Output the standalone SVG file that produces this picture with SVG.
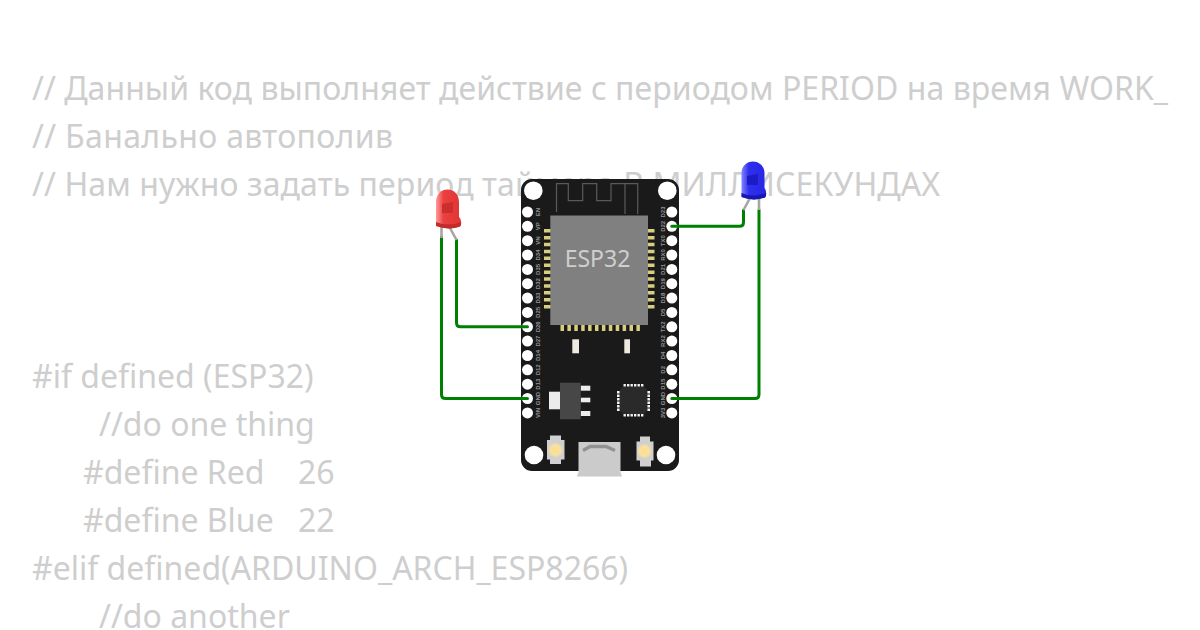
<svg xmlns="http://www.w3.org/2000/svg" width="1200" height="630" viewBox="0 0 1200 630">
<style>
.code{font-family:"Noto Sans","Open Sans",sans-serif;font-size:32px;fill:#cecece}
.pl{font-family:"Liberation Sans",sans-serif;font-size:6px;font-weight:bold;fill:#969696;text-anchor:middle}
.hole{fill:#fff}
.wire{fill:none;stroke:#008000;stroke-width:3;stroke-linejoin:round;stroke-linecap:round}
.leg{fill:none;stroke:#a6a6a6;stroke-width:2.6;stroke-linecap:butt}
.pad{fill:#d9cd80}
.smd{fill:#efeadf}
.reg{fill:#ececec}
.qd{fill:#f2f2f2}
.btn{fill:#d0d0d0}
</style>
<defs>
<linearGradient id="rg" x1="0" x2="1" y1="0" y2="0"><stop offset="0" stop-color="#ff9a9a"/><stop offset=".3" stop-color="#ea4040"/><stop offset="1" stop-color="#e23434"/></linearGradient>
<linearGradient id="bg" x1="0" x2="1" y1="0" y2="0"><stop offset="0" stop-color="#8484ff"/><stop offset=".3" stop-color="#2f2fee"/><stop offset="1" stop-color="#2626e4"/></linearGradient>
<radialGradient id="glow"><stop offset="0" stop-color="#ffdf85"/><stop offset=".65" stop-color="#f8e0a2"/><stop offset="1" stop-color="#d8d2c0"/></radialGradient>
</defs>
<rect width="1200" height="630" fill="#fff"/>
<g id="code">
<text class="code" x="32" y="100" textLength="1136">// Данный код выполняет действие с периодом PERIOD на время WORK_</text>
<text class="code" x="32" y="148" textLength="361">// Банально автополив</text>
<text class="code" x="32" y="196" textLength="908">// Нам нужно задать период таймера В МИЛЛИСЕКУНДАХ</text>
<text class="code" x="32" y="388">#if defined (ESP32)</text>
<text class="code" x="99" y="436">//do one thing</text>
<text class="code" x="83" y="484">#define Red</text><text class="code" x="298" y="484">26</text>
<text class="code" x="83" y="532">#define Blue</text><text class="code" x="298" y="532">22</text>
<text class="code" x="32" y="580">#elif defined(ARDUINO_ARCH_ESP8266)</text>
<text class="code" x="99" y="628">//do another</text>
</g>
<g id="esp32">
<rect x="521" y="179" width="158" height="292" rx="11" fill="#1a1a1a"/>
<circle class="hole" cx="533.300" cy="190.700" r="9.300"/><circle class="hole" cx="667.300" cy="190.700" r="9.300"/>
<circle class="hole" cx="534" cy="455" r="9.300"/><circle class="hole" cx="666" cy="455" r="9.300"/>
<path d="M556.500 212V183.700H568.300V200.700H582.700V183.700H596.700V200.700H611V183.700H637.700V214M625 183.700V214" fill="none" stroke="#5a5a5a" stroke-width="1.200"/>
<path class="pad" d="M544 229h7v3.500h-7zM544 235.900h7v3.500h-7zM544 242.800h7v3.500h-7zM544 249.700h7v3.500h-7zM544 256.600h7v3.500h-7zM544 263.500h7v3.500h-7zM544 270.400h7v3.500h-7zM544 277.300h7v3.500h-7zM544 284.200h7v3.500h-7zM544 291.100h7v3.500h-7zM544 298h7v3.500h-7zM544 304.900h7v3.500h-7z"/>
<path class="pad" d="M647.500 229h7v3.500h-7zM647.500 235.900h7v3.500h-7zM647.500 242.800h7v3.500h-7zM647.500 249.700h7v3.500h-7zM647.500 256.600h7v3.500h-7zM647.500 263.500h7v3.500h-7zM647.500 270.400h7v3.500h-7zM647.500 277.300h7v3.500h-7zM647.500 284.200h7v3.500h-7zM647.500 291.100h7v3.500h-7zM647.500 298h7v3.500h-7zM647.500 304.900h7v3.500h-7z"/>
<path class="pad" d="M560.500 324h3.500v7h-3.500zM567.400 324h3.500v7h-3.500zM574.300 324h3.500v7h-3.500zM581.200 324h3.500v7h-3.500zM588.100 324h3.500v7h-3.500zM595 324h3.500v7h-3.500zM601.900 324h3.500v7h-3.500zM608.800 324h3.500v7h-3.500zM615.700 324h3.500v7h-3.500zM622.600 324h3.500v7h-3.500zM629.500 324h3.500v7h-3.500zM636.400 324h3.500v7h-3.500z"/>
<rect x="550.300" y="215.500" width="97.700" height="109.500" fill="#808080"/>
<text x="597.500" y="267" text-anchor="middle" font-family="'Noto Sans','Open Sans',sans-serif" font-size="23" fill="#cfcfcf">ESP32</text>
<rect x="572.300" y="339.300" width="6.700" height="14" class="smd"/><rect x="624.300" y="339.300" width="5.700" height="14" class="smd"/>
<rect x="549" y="391.700" width="11" height="17.600" class="reg"/>
<rect x="580.700" y="385.700" width="9.600" height="5" class="reg"/><rect x="580.700" y="397.700" width="9.600" height="4.600" class="reg"/><rect x="580.700" y="411" width="9.600" height="5" class="reg"/>
<rect x="560" y="382.700" width="20.700" height="36.600" fill="#474747"/>
<path d="M623 386.500H644L647 389.500V411L644 414H623L620 411V389.500Z" fill="#2a2a2a"/>
<path class="qd" d="M623.500 384h2.400v2.600h-2.400zM627 384h2.400v2.600h-2.400zM630.500 384h2.400v2.600h-2.400zM634 384h2.400v2.600h-2.400zM637.500 384h2.400v2.600h-2.400zM641 384h2.400v2.600h-2.400zM623.500 414h2.400v2.600h-2.400zM627 414h2.400v2.600h-2.400zM630.500 414h2.400v2.600h-2.400zM634 414h2.400v2.600h-2.400zM637.500 414h2.400v2.600h-2.400zM641 414h2.400v2.600h-2.400zM617 391h2.600v2.400h-2.600zM617 394.500h2.600v2.400h-2.600zM617 398h2.600v2.400h-2.600zM617 401.500h2.600v2.400h-2.600zM617 405h2.600v2.400h-2.600zM617 408.500h2.600v2.400h-2.600zM647.400 391h2.600v2.400h-2.600zM647.400 394.500h2.600v2.400h-2.600zM647.400 398h2.600v2.400h-2.600zM647.400 401.500h2.600v2.400h-2.600zM647.400 405h2.600v2.400h-2.600zM647.400 408.500h2.600v2.400h-2.600z"/>
<path class="btn" d="M550 435.500H561V440H564.500V459.500H561V464H550V459.500H547V440H550Z"/>
<circle cx="555.500" cy="450" r="7.500" fill="url(#glow)"/>
<path class="btn" d="M640 436.500H650V441.500H653.500V460.500H651V466.500H640V460.500H636.500V441.500H640Z"/>
<circle cx="644.500" cy="451" r="7.500" fill="url(#glow)"/>
<path d="M578.500 442H620.500V472L622 476.500H577L578.500 472Z" fill="#cbcbcb"/>
<path d="M583 450.500L590 446.500H606L615 450.500" fill="none" stroke="#929292" stroke-width="3.400"/>
<g class="pins">
<circle class="hole" cx="527.500" cy="212" r="5.500"/><circle class="hole" cx="527.500" cy="226.300" r="5.500"/><circle class="hole" cx="527.500" cy="240.700" r="5.500"/><circle class="hole" cx="527.500" cy="255" r="5.500"/><circle class="hole" cx="527.500" cy="269.400" r="5.500"/><circle class="hole" cx="527.500" cy="283.700" r="5.500"/><circle class="hole" cx="527.500" cy="298.100" r="5.500"/><circle class="hole" cx="527.500" cy="312.400" r="5.500"/><circle class="hole" cx="527.500" cy="326.800" r="5.500"/><circle class="hole" cx="527.500" cy="341.100" r="5.500"/><circle class="hole" cx="527.500" cy="355.500" r="5.500"/><circle class="hole" cx="527.500" cy="369.800" r="5.500"/><circle class="hole" cx="527.500" cy="384.200" r="5.500"/><circle class="hole" cx="527.500" cy="398.500" r="5.500"/><circle class="hole" cx="527.500" cy="412.900" r="5.500"/>
<circle class="hole" cx="671.800" cy="212" r="5.500"/><circle class="hole" cx="671.800" cy="226.300" r="5.500"/><circle class="hole" cx="671.800" cy="240.700" r="5.500"/><circle class="hole" cx="671.800" cy="255" r="5.500"/><circle class="hole" cx="671.800" cy="269.400" r="5.500"/><circle class="hole" cx="671.800" cy="283.700" r="5.500"/><circle class="hole" cx="671.800" cy="298.100" r="5.500"/><circle class="hole" cx="671.800" cy="312.400" r="5.500"/><circle class="hole" cx="671.800" cy="326.800" r="5.500"/><circle class="hole" cx="671.800" cy="341.100" r="5.500"/><circle class="hole" cx="671.800" cy="355.500" r="5.500"/><circle class="hole" cx="671.800" cy="369.800" r="5.500"/><circle class="hole" cx="671.800" cy="384.200" r="5.500"/><circle class="hole" cx="671.800" cy="398.500" r="5.500"/><circle class="hole" cx="671.800" cy="412.900" r="5.500"/>
</g>
<g class="labels">
<text class="pl" transform="translate(540 212) rotate(-90)">EN</text>
<text class="pl" transform="translate(540 226.300) rotate(-90)">VP</text>
<text class="pl" transform="translate(540 240.700) rotate(-90)">VN</text>
<text class="pl" transform="translate(540 255) rotate(-90)">D34</text>
<text class="pl" transform="translate(540 269.400) rotate(-90)">D35</text>
<text class="pl" transform="translate(540 283.700) rotate(-90)">D32</text>
<text class="pl" transform="translate(540 298.100) rotate(-90)">D33</text>
<text class="pl" transform="translate(540 312.400) rotate(-90)">D25</text>
<text class="pl" transform="translate(540 326.800) rotate(-90)">D26</text>
<text class="pl" transform="translate(540 341.100) rotate(-90)">D27</text>
<text class="pl" transform="translate(540 355.500) rotate(-90)">D14</text>
<text class="pl" transform="translate(540 369.800) rotate(-90)">D12</text>
<text class="pl" transform="translate(540 384.200) rotate(-90)">D13</text>
<text class="pl" transform="translate(540 398.500) rotate(-90)">GND</text>
<text class="pl" transform="translate(540 412.900) rotate(-90)">VIN</text>
<text class="pl" transform="translate(664.500 212) rotate(-90)">D23</text>
<text class="pl" transform="translate(664.500 226.300) rotate(-90)">D22</text>
<text class="pl" transform="translate(664.500 240.700) rotate(-90)">TX0</text>
<text class="pl" transform="translate(664.500 255) rotate(-90)">RX0</text>
<text class="pl" transform="translate(664.500 269.400) rotate(-90)">D21</text>
<text class="pl" transform="translate(664.500 283.700) rotate(-90)">D19</text>
<text class="pl" transform="translate(664.500 298.100) rotate(-90)">D18</text>
<text class="pl" transform="translate(664.500 312.400) rotate(-90)">D5</text>
<text class="pl" transform="translate(664.500 326.800) rotate(-90)">TX2</text>
<text class="pl" transform="translate(664.500 341.100) rotate(-90)">RX2</text>
<text class="pl" transform="translate(664.500 355.500) rotate(-90)">D4</text>
<text class="pl" transform="translate(664.500 369.800) rotate(-90)">D2</text>
<text class="pl" transform="translate(664.500 384.200) rotate(-90)">D15</text>
<text class="pl" transform="translate(664.500 398.500) rotate(-90)">GND</text>
<text class="pl" transform="translate(664.500 412.900) rotate(-90)">3V3</text>
</g>
</g>
<g id="connectors">
<path class="wire" d="M456.500 240V322.800Q456.500 326.800 460.500 326.800H527.500"/>
<path class="wire" d="M441.500 237V394.500Q441.500 398.500 445.500 398.500H527.500"/>
<path class="wire" d="M743.500 210V222.300Q743.500 226.300 739.500 226.300H671.800"/>
<path class="wire" d="M759 210V394.500Q759 398.500 755 398.500H671.800"/>
</g>
<g id="led-red">
<path class="leg" d="M441.500 227V238M449.500 227L456.500 240"/>
<path d="M436 224V202C436 194 441.500 189.500 447.500 189.500C453.500 189.500 459 194 459 202V217C461.500 219 461.500 224 460 226.500Q448 230.500 436 226Z" fill="url(#rg)"/>
<path d="M436 222Q448 227 461.300 222Q461.300 225 460 226.500Q448 230.500 436 226Z" fill="#c42a2a"/>
<path d="M442 204L453 202V213H442Z" fill="#cc2e2e"/>
</g>
<g id="led-blue">
<path class="leg" d="M750 198L743.500 210M759 198V210"/>
<path d="M741.500 194V173C741.500 166 747 161.500 753 161.500C759 161.500 764.500 166 764.500 173V188C766.500 190 766.500 195 765 197.500Q753 201.500 741.500 197Z" fill="url(#bg)"/>
<path d="M741.500 193Q753 198 766.300 193Q766.300 196 765 197.500Q753 201.500 741.500 197Z" fill="#1818b0"/>
<path d="M747 176L758 174V185H747Z" fill="#1c1cc4"/>
</g>
</svg>
